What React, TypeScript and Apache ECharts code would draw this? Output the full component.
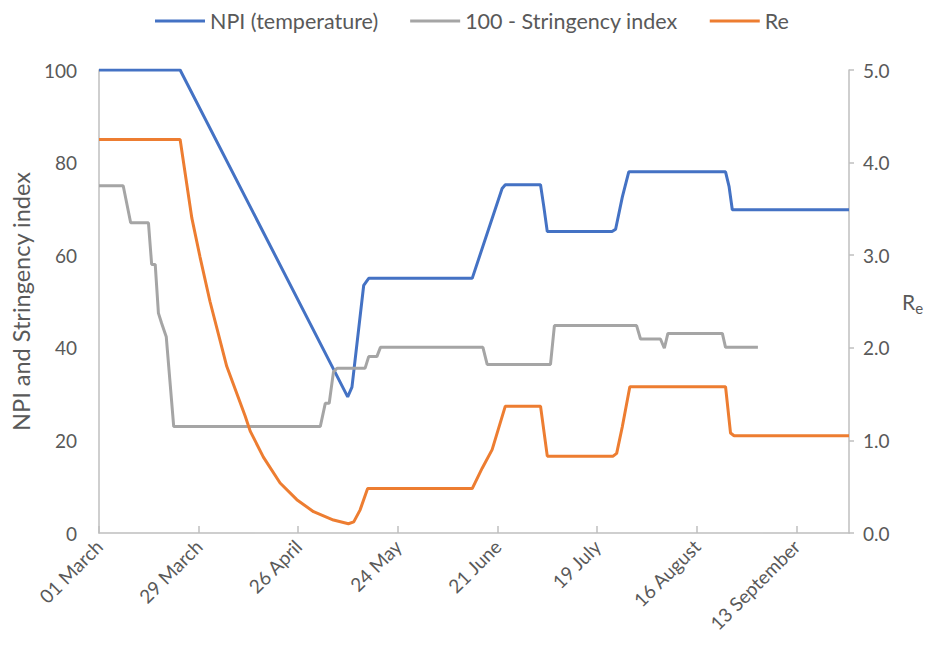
import React, { useEffect, useRef } from "react";
import * as echarts from "echarts";

// x = days since 01 March
const tickLabels = ["01 March", "29 March", "26 April", "24 May", "21 June", "19 July", "16 August", "13 September"];
const tickDays = [0, 28, 56, 84, 112, 140, 168, 196];

const npiPoints: [number, number][] = [
  [0, 100], [22.8, 100], [69.9, 29.4],
  [71.1, 31.5], [74.4, 53.5], [75.8, 55], [104.9, 55], [113.3, 74.4], [114.2, 75.2], [124.1, 75.2],
  [125, 70.6], [126, 65.1], [144.2, 65.1], [145.2, 65.6], [147.1, 72.6], [148.9, 78], [176.1, 78],
  [177.1, 74.8], [178, 69.8], [210.8, 69.8],
];

const stringencyPoints: [number, number][] = [
  [0, 75], [6.8, 75], [8.9, 67], [13.9, 67], [14.8, 58], [15.8, 58], [16.7, 47.5], [17.6, 45.3],
  [18.9, 42.4], [21, 23], [62.2, 23], [63.6, 28], [64.7, 28], [65.9, 34.8], [66.9, 35.6], [74.8, 35.6],
  [75.8, 38.1], [78.1, 38.1], [79.1, 40.1], [107.9, 40.1], [109.1, 36.4], [126.9, 36.4], [128, 44.8],
  [151.1, 44.8], [152.2, 41.9], [157.8, 41.9], [158.9, 39.9], [159.9, 43.1], [175.2, 43.1],
  [176.1, 40.1], [185.2, 40.1],
];

const rePoints: [number, number][] = [
  [0, 4.25], [22.8, 4.25], [26.1, 3.4], [28.4, 2.98], [31.2, 2.5], [35.9, 1.8],
  [41.1, 1.26], [42.5, 1.1], [46.2, 0.82], [50.9, 0.54], [55.6, 0.36], [60.3, 0.23], [65.9, 0.14],
  [70.1, 0.1], [71.6, 0.12], [73.4, 0.25], [75.5, 0.48], [104.9, 0.48], [107.7, 0.7], [110.5, 0.9],
  [114.2, 1.37], [124.1, 1.37], [126, 0.83], [144.5, 0.83], [145.5, 0.86], [147.1, 1.15],
  [149.2, 1.58], [176.1, 1.58], [177.5, 1.08], [178.5, 1.05], [210.8, 1.05],
];

const FONT = "Lato";
const TXT = "#595959";
const AX = "#bfbfbf";

export default function App() {
  const ref = useRef<HTMLDivElement>(null);
  useEffect(() => {
    if (!ref.current) return;
    const chart = echarts.init(ref.current, null, { renderer: "svg" });
    chart.setOption({
      animation: false,
      textStyle: { fontFamily: FONT },
      legend: {
        top: 5,
        left: 150,
        icon: "rect",
        itemWidth: 50,
        itemHeight: 3,
        itemGap: 32,
        textStyle: { fontFamily: FONT, fontSize: 21.5, color: TXT },
        data: ["NPI (temperature)", "100 - Stringency index", "Re"],
      },
      grid: { left: 99, right: 84, top: 70, bottom: 124 },
      xAxis: {
        type: "value",
        min: 0,
        max: 210.8,
        splitLine: { show: false },
        axisLine: { show: true, lineStyle: { color: AX, width: 1.5 } },
        axisTick: { show: true, inside: true, length: 7, customValues: tickDays, lineStyle: { color: AX, width: 1.5 } },
        axisLabel: {
          customValues: tickDays,
          rotate: 45,
          margin: 10,
          fontFamily: FONT,
          fontSize: 19,
          color: TXT,
          formatter: (v: number) => {
            const i = tickDays.indexOf(Math.round(v));
            return i >= 0 ? tickLabels[i] : "";
          },
        },
      },
      yAxis: [
        {
          type: "value",
          min: 0,
          max: 100,
          interval: 20,
          splitLine: { show: false },
          axisLine: { show: true, lineStyle: { color: AX, width: 1.5 } },
          axisTick: { show: false },
          axisLabel: { margin: 22, fontFamily: FONT, fontSize: 19, color: TXT },
          name: "NPI and Stringency index",
          nameLocation: "middle",
          nameGap: 64,
          nameTextStyle: { fontFamily: FONT, fontSize: 23.5, color: TXT },
        },
        {
          type: "value",
          position: "right",
          min: 0,
          max: 5,
          interval: 1,
          splitLine: { show: false },
          axisLine: { show: true, lineStyle: { color: AX, width: 1.5 } },
          axisTick: { show: true, inside: false, length: 5, lineStyle: { color: AX, width: 1.5 } },
          axisLabel: {
            margin: 14,
            fontFamily: FONT,
            fontSize: 19,
            color: TXT,
            formatter: (v: number) => v.toFixed(1),
          },
          name: "{r|R}{s|e}",
          nameLocation: "middle",
          nameRotate: 0,
          nameGap: 53,
          nameTextStyle: {
            align: "left",
            rich: {
              r: { fontFamily: FONT, fontSize: 21, color: TXT, lineHeight: 26 },
              s: { fontFamily: FONT, fontSize: 15, color: TXT, lineHeight: 26, padding: [12, 0, 0, 0] },
            },
          },
        },
      ],
      series: [
        {
          name: "NPI (temperature)",
          type: "line",
          yAxisIndex: 0,
          data: npiPoints,
          symbol: "none",
          lineStyle: { color: "#4472C4", width: 3 },
          itemStyle: { color: "#4472C4" },
        },
        {
          name: "100 - Stringency index",
          type: "line",
          yAxisIndex: 0,
          data: stringencyPoints,
          symbol: "none",
          lineStyle: { color: "#A5A5A5", width: 3 },
          itemStyle: { color: "#A5A5A5" },
        },
        {
          name: "Re",
          type: "line",
          yAxisIndex: 1,
          data: rePoints,
          symbol: "none",
          lineStyle: { color: "#ED7D31", width: 3 },
          itemStyle: { color: "#ED7D31" },
        },
      ],
    });
    return () => chart.dispose();
  }, []);
  return <div ref={ref} style={{ width: 933, height: 657, margin: -8 }} />;
}
